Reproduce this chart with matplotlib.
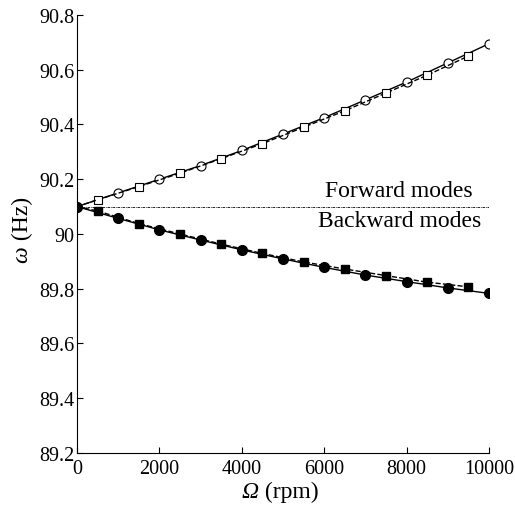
import matplotlib
matplotlib.use("Agg")
import matplotlib.pyplot as plt
from matplotlib.ticker import FuncFormatter

plt.rcParams['font.family'] = ['Liberation Serif', 'DejaVu Serif']

# rotor speed (rpm)
speed_a = [0, 1000, 2000, 3000, 4000, 5000, 6000, 7000, 8000, 9000, 10000]
speed_b = [0, 500, 1500, 2500, 3500, 4500, 5500, 6500, 7500, 8500, 9500]

# forward modes (Hz)
fw_a = [90.10, 90.150, 90.200, 90.250, 90.305, 90.365, 90.425, 90.490, 90.555, 90.625, 90.695]
fw_b = [90.10, 90.125, 90.173, 90.222, 90.275, 90.330, 90.390, 90.450, 90.515, 90.580, 90.650]

# backward modes (Hz)
bw_a = [90.10, 90.057, 90.015, 89.978, 89.942, 89.909, 89.878, 89.850, 89.826, 89.803, 89.783]
bw_b = [90.10, 90.084, 90.038, 90.000, 89.963, 89.929, 89.898, 89.872, 89.848, 89.824, 89.807]

split_freq = 90.1

fig = plt.figure(figsize=(5.15, 5.06), dpi=100)
ax = fig.add_axes([0.1495, 0.1028, 0.80, 0.8656])

# linhas
ax.plot(speed_a, fw_a, '-', color='k', lw=1.0, marker='o', ms=6.5, mfc='white', mec='k', mew=0.8)
ax.plot(speed_b[1:], fw_b[1:], '--', color='k', lw=1.0, marker='s', ms=6, mfc='white', mec='k', mew=0.8)
ax.plot(speed_b[:2], fw_b[:2], '--', color='k', lw=1.0)
ax.plot(speed_a, bw_a, '-', color='k', lw=1.0, marker='o', ms=7, mfc='k', mec='k')
ax.plot(speed_b[1:], bw_b[1:], '--', color='k', lw=1.0, marker='s', ms=6, mfc='k', mec='k')
ax.plot(speed_b[:2], bw_b[:2], '--', color='k', lw=1.0)
ax.plot([0, 10000], [split_freq, split_freq], color='k', lw=0.6, ls=(0, (3, 1, 1, 1)))

ax.text(9612, 90.158, 'Forward modes', ha='right', va='center', fontsize=17)
ax.text(9823, 90.049, 'Backward modes', ha='right', va='center', fontsize=17)

ax.set_xlim(0, 10000)
ax.set_ylim(89.2, 90.8)
ax.set_xticks([0, 2000, 4000, 6000, 8000, 10000])
ax.set_yticks([89.2, 89.4, 89.6, 89.8, 90.0, 90.2, 90.4, 90.6, 90.8])
ax.yaxis.set_major_formatter(FuncFormatter(lambda v, p: '%g' % round(v, 1)))
ax.tick_params(direction='in', length=4, width=0.8, labelsize=14.5)
ax.tick_params(axis='x', pad=4)
ax.tick_params(axis='y', pad=2)

for s in ['top', 'right']:
    ax.spines[s].set_visible(False)

# rótulos com letra grega em itálico
tx = ax.text(0.40, -0.089, 'Ω', style='italic', fontsize=17, ha='left', va='center',
             transform=ax.transAxes)
ax.annotate(' (rpm)', xy=(1, 0), xycoords=tx, ha='left', va='bottom', fontsize=17,
            annotation_clip=False)
ty = ax.text(-0.1335, 0.436, 'ω', style='italic', fontsize=17, ha='center', va='bottom',
             rotation=90, transform=ax.transAxes)
ax.annotate(' (Hz)', xy=(0, 1), xycoords=ty, ha='left', va='bottom', fontsize=17,
            rotation=90, annotation_clip=False)

fig.savefig('out.png', dpi=100)
